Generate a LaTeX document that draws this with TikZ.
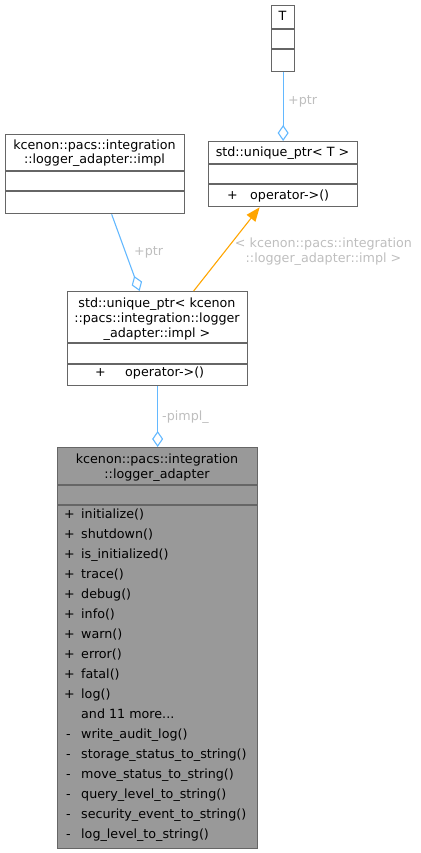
\documentclass[tikz,border=0pt]{standalone}
\usepackage{fontspec}
\setmainfont{DejaVu Sans}
\usetikzlibrary{arrows.meta,calc}
\definecolor{edgeblue}{HTML}{63B8FF}
\definecolor{edgeorange}{HTML}{FFA500}
\definecolor{boxborder}{HTML}{666666}
\definecolor{lblgray}{HTML}{BEBEBE}
\definecolor{mainfill}{HTML}{999999}
\tikzset{
  umlbox/.style={draw=boxborder, line width=1.3pt, fill=white, inner sep=0pt, anchor=north west, rectangle},
  mainbox/.style={umlbox, fill=mainfill},
  sepline/.style={draw=boxborder, line width=1.3pt},
  txt/.style={inner sep=0pt, font=\fontsize{12.7}{15}\selectfont, text=black},
  lbl/.style={inner sep=0pt, font=\fontsize{12.7}{15}\selectfont, text=lblgray},
  aggr/.style={draw=edgeblue, line width=1.1pt, -{Diamond[open, length=16pt, width=11pt, line width=1.1pt]}},
  inher/.style={draw=edgeorange, line width=1.1pt, -{Triangle[length=14pt, width=11pt]}}
}
\begin{document}
\begin{tikzpicture}[x=1pt,y=-1pt]
\useasboundingbox (0,0) rectangle (420,853);

% T
\node[umlbox, minimum width=23pt, minimum height=66pt] (T) at (271,5) {};
\draw[sepline] (271,29) -- (294,29) (271,49) -- (294,49);
\node[txt, anchor=base] (Tt) at (282.5,21) {T};

% std::unique_ptr< T >
\node[umlbox, minimum width=149pt, minimum height=65pt] (uT) at (208,141) {};
\draw[sepline] (208,164) -- (357,164) (208,184) -- (357,184);
\node[txt, anchor=base] (uTt) at (282.5,157) {std::unique\_ptr< T >};
\node[txt, anchor=base west] (uTp) at (227,199) {+};
\node[txt, anchor=base west] (uTo) at (250,199) {operator->()};

% impl
\node[umlbox, minimum width=179pt, minimum height=79pt] (impl) at (5,134) {};
\draw[sepline] (5,171) -- (184,171) (5,191) -- (184,191);
\node[txt, anchor=base] (implt1) at (94.5,149.5) {kcenon::pacs::integration};
\node[txt, anchor=base] (implt2) at (94.5,164) {::logger\_adapter::impl};

% std::unique_ptr< impl >
\node[umlbox, minimum width=180pt, minimum height=94pt] (uI) at (67,291) {};
\draw[sepline] (67,343) -- (247,343) (67,364) -- (247,364);
\node[txt, anchor=base] (uIt1) at (157,307) {std::unique\_ptr< kcenon};
\node[txt, anchor=base] (uIt2) at (157,322) {::pacs::integration::logger};
\node[txt, anchor=base] (uIt3) at (157,337) {\_adapter::impl >};
\node[txt, anchor=base west] (uIp) at (95,376.5) {+};
\node[txt, anchor=base west] (uIo) at (125,376.5) {operator->()};

% main class
\node[mainbox, minimum width=200pt, minimum height=401pt] (M) at (57,447) {};
\draw[sepline] (57,485) -- (257,485) (57,505) -- (257,505);
\node[txt, anchor=base] (Mt1) at (157,463.5) {kcenon::pacs::integration};
\node[txt, anchor=base] (Mt2) at (157,478.5) {::logger\_adapter};
\foreach \i in {0,...,9}
  \node[txt, anchor=base west] (Mp\i) at (64,518+20*\i) {+};
\foreach \n [count=\i from 0] in {{initialize()},{shutdown()},{is\_initialized()},{trace()},{debug()},{info()},{warn()},{error()},{fatal()},{log()},{and 11 more{.}{.}{.}},{write\_audit\_log()},{storage\_status\_to\_string()},{move\_status\_to\_string()},{query\_level\_to\_string()},{security\_event\_to\_string()},{log\_level\_to\_string()}}
  \node[txt, anchor=base west] (Mm\i) at (81,518+20*\i) {\n};
\foreach \i in {11,12,13,14,15,16}
  \node[txt, anchor=base west] (Mq\i) at (66,518+20*\i) {-};

% connectors
\draw[aggr] (T.south) -- (uT.north);
\node[lbl, anchor=base west] (l1) at (288,105) {+ptr};

\draw[aggr] ([xshift=16.5pt]impl.south) -- ([xshift=-18pt]uI.north);
\node[lbl, anchor=base west] (l2) at (134,255) {+ptr};

\draw[inher] ([xshift=36pt]uI.north) -- ([xshift=-23.5pt]uT.south);
\node[lbl, anchor=base] (l3a) at (323.5,247) {< kcenon::pacs::integration};
\node[lbl, anchor=base] (l3b) at (323.5,262) {::logger\_adapter::impl >};

\draw[aggr] (uI.south) -- (M.north);
\node[lbl, anchor=base west] (l4) at (162,420) {-pimpl\_};
\end{tikzpicture}
\end{document}
